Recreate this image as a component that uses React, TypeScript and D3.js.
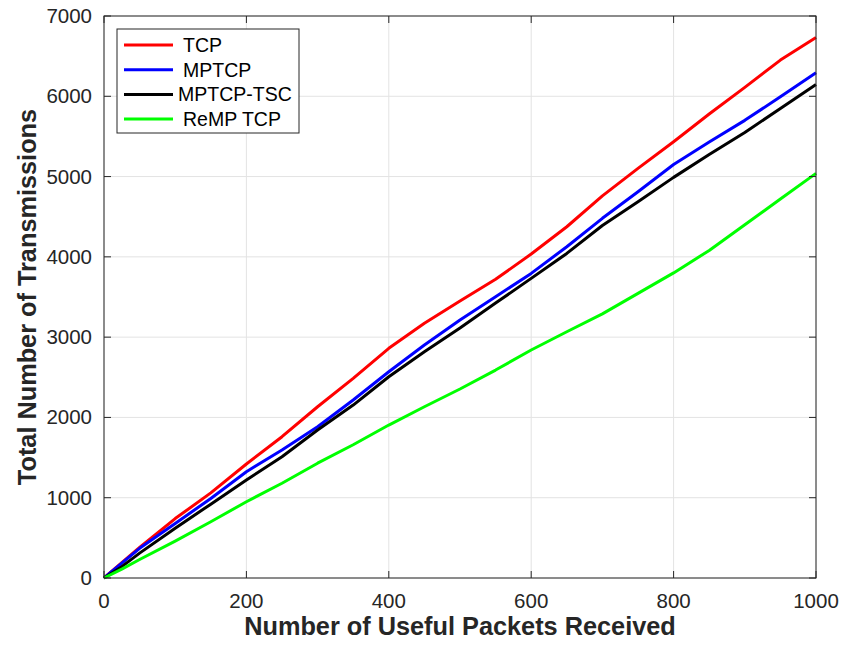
import React from "react";
import * as d3 from "d3";

// values
const packets = [0, 25, 50, 100, 150, 200, 250, 300, 350, 400, 450, 500, 550, 600, 650, 700, 750, 800, 850, 900, 950, 1000];
const tcp = [0, 190, 380, 740, 1060, 1420, 1760, 2133, 2487, 2861, 3172, 3449, 3720, 4035, 4375, 4760, 5102, 5434, 5780, 6111, 6451, 6733];
const mptcp = [0, 185, 370, 680, 990, 1324, 1594, 1884, 2217, 2569, 2902, 3213, 3503, 3794, 4126, 4480, 4811, 5150, 5430, 5700, 5994, 6293];
const mptcpTsc = [0, 141, 310, 620, 920, 1220, 1511, 1843, 2154, 2507, 2818, 3113, 3424, 3732, 4043, 4390, 4686, 4990, 5275, 5550, 5849, 6148];
const remp = [0, 110, 230, 460, 700, 950, 1180, 1430, 1660, 1905, 2133, 2354, 2590, 2840, 3067, 3290, 3545, 3800, 4080, 4400, 4720, 5040];

const seriesNames = ["TCP", "MPTCP", "MPTCP-TSC", "ReMP TCP"];
const seriesColors = ["#ff0000", "#0000ff", "#000000", "#00ff00"];
const seriesValues = [tcp, mptcp, mptcpTsc, remp];

const xTicks = [0, 200, 400, 600, 800, 1000];
const yTicks = [0, 1000, 2000, 3000, 4000, 5000, 6000, 7000];

const W = 842;
const H = 646;
const margin = { top: 16, right: 26, bottom: 68, left: 104 };
const font = "'Liberation Sans', Arial, Helvetica, sans-serif";
const axisColor = "#262626";

export default function App() {
  const x = d3.scaleLinear().domain([0, 1000]).range([margin.left, W - margin.right]);
  const y = d3.scaleLinear().domain([0, 7000]).range([H - margin.bottom, margin.top]);
  const [x0, x1] = x.range();
  const [y0, y1] = y.range();

  const line = d3
    .line<number>()
    .x((_, i) => x(packets[i]))
    .y((d) => y(d));

  const tickLen = 7;

  // legend box
  const lg = { x: 117, y: 29, w: 182, h: 104, row: 24.7 };

  return (
    <svg
      width={W}
      height={H}
      style={{ position: "absolute", left: 0, top: 0, background: "#fff" }}
      fontFamily={font}
    >
      <rect x={0} y={0} width={W} height={H} fill="#fff" />

      {/* grid */}
      {xTicks.map((t) => (
        <line key={`gx${t}`} x1={x(t)} x2={x(t)} y1={y1} y2={y0} stroke="#e3e3e3" strokeWidth={1} />
      ))}
      {yTicks.map((t) => (
        <line key={`gy${t}`} x1={x0} x2={x1} y1={y(t)} y2={y(t)} stroke="#e3e3e3" strokeWidth={1} />
      ))}

      {/* series */}
      {seriesValues.map((vals, i) => (
        <path
          key={seriesNames[i]}
          d={line(vals) || ""}
          fill="none"
          stroke={seriesColors[i]}
          strokeWidth={3}
          strokeLinejoin="round"
        />
      ))}

      {/* box */}
      <rect x={x0} y={y1} width={x1 - x0} height={y0 - y1} fill="none" stroke={axisColor} strokeWidth={1} />

      {/* ticks (inward, all four sides) */}
      {xTicks.map((t) => (
        <g key={`tx${t}`}>
          <line x1={x(t)} x2={x(t)} y1={y0} y2={y0 - tickLen} stroke={axisColor} />
          <line x1={x(t)} x2={x(t)} y1={y1} y2={y1 + tickLen} stroke={axisColor} />
          <text x={x(t)} y={y0 + 30} fontSize={20.5} fill={axisColor} textAnchor="middle">
            {t}
          </text>
        </g>
      ))}
      {yTicks.map((t) => (
        <g key={`ty${t}`}>
          <line x1={x0} x2={x0 + tickLen} y1={y(t)} y2={y(t)} stroke={axisColor} />
          <line x1={x1} x2={x1 - tickLen} y1={y(t)} y2={y(t)} stroke={axisColor} />
          <text x={x0 - 12} y={y(t) + 7} fontSize={20.5} fill={axisColor} textAnchor="end">
            {t}
          </text>
        </g>
      ))}

      {/* axis labels */}
      <text
        x={(x0 + x1) / 2}
        y={H - 11}
        fontSize={25.3}
        fontWeight="bold"
        fill={axisColor}
        textAnchor="middle"
      >
        Number of Useful Packets Received
      </text>
      <text
        transform={`translate(${36}, ${(y0 + y1) / 2}) rotate(-90)`}
        fontSize={25.3}
        fontWeight="bold"
        fill={axisColor}
        textAnchor="middle"
      >
        Total Number of Transmissions
      </text>

      {/* legend */}
      <rect x={lg.x} y={lg.y} width={lg.w} height={lg.h} fill="#fff" stroke={axisColor} strokeWidth={1} />
      {seriesNames.map((name, i) => {
        const cy = lg.y + 16 + i * lg.row;
        return (
          <g key={`lg${name}`}>
            <line x1={lg.x + 7} x2={lg.x + 56} y1={cy} y2={cy} stroke={seriesColors[i]} strokeWidth={3} />
            <text
              x={name === "MPTCP-TSC" ? lg.x + 61 : lg.x + 66}
              y={cy + 7}
              fontSize={19.5}
              fill="#000"
            >
              {name}
            </text>
          </g>
        );
      })}
    </svg>
  );
}
